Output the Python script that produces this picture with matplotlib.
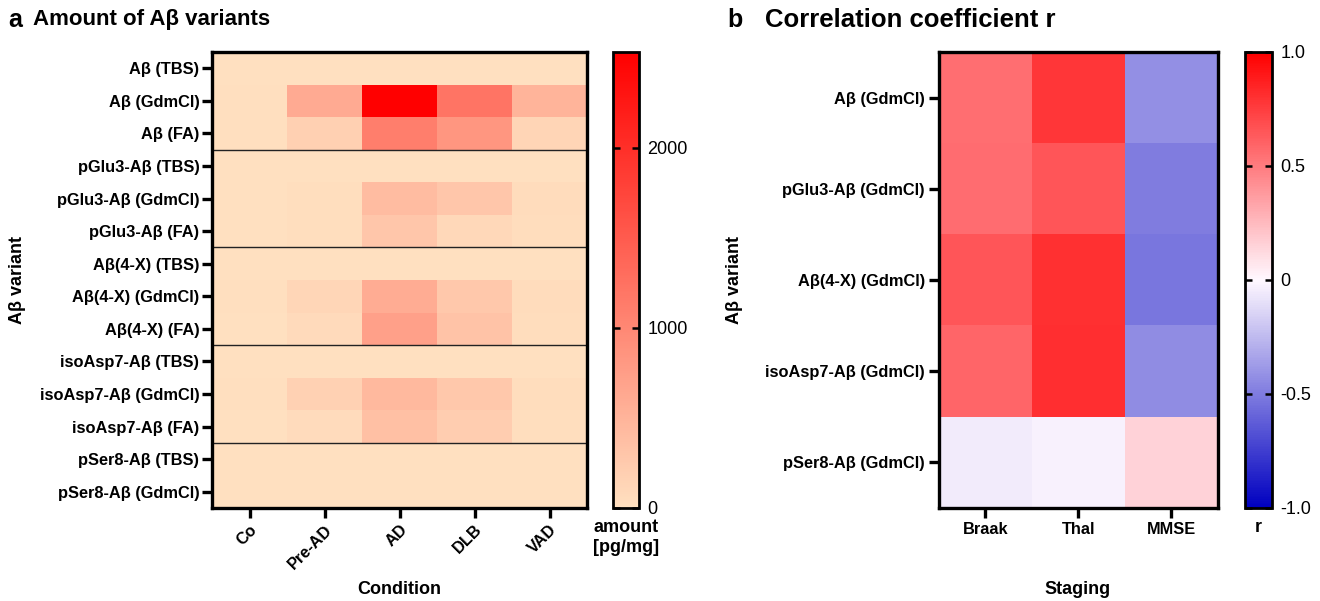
import numpy as np
import matplotlib
matplotlib.use("Agg")
import matplotlib.pyplot as plt
from matplotlib.colors import LinearSegmentedColormap

plt.rcParams['font.family'] = ['Liberation Sans', 'DejaVu Sans']

# ---------------- data ----------------
conditions = ["Co", "Pre-AD", "AD", "DLB", "VAD"]
variants = ["Aβ (TBS)", "Aβ (GdmCl)", "Aβ (FA)",
            "pGlu3-Aβ (TBS)", "pGlu3-Aβ (GdmCl)", "pGlu3-Aβ (FA)",
            "Aβ(4-X) (TBS)", "Aβ(4-X) (GdmCl)", "Aβ(4-X) (FA)",
            "isoAsp7-Aβ (TBS)", "isoAsp7-Aβ (GdmCl)", "isoAsp7-Aβ (FA)",
            "pSer8-Aβ (TBS)", "pSer8-Aβ (GdmCl)"]
amount = [
    [2, 3, 4, 3, 2],
    [15, 610, 2530, 1210, 500],
    [10, 180, 1100, 840, 125],
    [2, 3, 5, 4, 2],
    [8, 25, 400, 290, 45],
    [6, 20, 290, 80, 30],
    [2, 3, 6, 4, 2],
    [10, 110, 590, 270, 40],
    [8, 60, 720, 330, 30],
    [2, 3, 6, 4, 2],
    [10, 160, 440, 270, 35],
    [8, 55, 360, 210, 20],
    [2, 3, 4, 3, 2],
    [3, 5, 8, 5, 3],
]
amount_ticks = [0, 1000, 2000]
amount_max = 2530

staging = ["Braak", "Thal", "MMSE"]
corr_variants = ["Aβ (GdmCl)", "pGlu3-Aβ (GdmCl)", "Aβ(4-X) (GdmCl)",
                 "isoAsp7-Aβ (GdmCl)", "pSer8-Aβ (GdmCl)"]
corr_r = [
    [0.55, 0.78, -0.42],
    [0.56, 0.65, -0.50],
    [0.65, 0.80, -0.52],
    [0.59, 0.81, -0.43],
    [-0.05, -0.03, 0.15],
]
r_ticks = [-1.0, -0.5, 0, 0.5, 1.0]
r_ticklabels = ["-1.0", "-0.5", "0", "0.5", "1.0"]

# ---------------- figure ----------------
W, H = 1320, 601
fig = plt.figure(figsize=(W / 100, H / 100), dpi=100)


def box(x0, y0, x1, y1):
    return [x0 / W, 1 - y1 / H, (x1 - x0) / W, (y1 - y0) / H]


cmap_a = LinearSegmentedColormap.from_list("amt", ["#FFE0C0", "#FF0000"])
cmap_b = LinearSegmentedColormap.from_list("rr", ["#0000C0", "#FFF8FF", "#FF0000"])

tick_fs = 11.8
lab_fs = 13
cb_fs = 13
lw_frame = 2.4


def style_frame(ax):
    for s in ax.spines.values():
        s.set_linewidth(lw_frame)
        s.set_color("black")


# ---- panel a ----
axA = fig.add_axes(box(212, 52, 587, 508))
imA = axA.imshow(np.array(amount), cmap=cmap_a, vmin=0, vmax=amount_max,
                 aspect="auto", interpolation="nearest")
axA.set_xticks(range(len(conditions)))
axA.set_xticklabels(conditions, rotation=45, ha="right", rotation_mode="anchor",
                    fontsize=tick_fs, fontweight="bold")
axA.set_yticks(range(len(variants)))
axA.set_yticklabels(variants, fontsize=tick_fs, fontweight="bold")
axA.tick_params(axis="y", length=7, width=2.4, pad=2)
axA.tick_params(axis="x", length=7, width=2.4, pad=3)
for yb in [2.5, 5.5, 8.5, 11.5]:
    axA.axhline(yb, color="#222222", lw=1.0)
style_frame(axA)
axA.set_ylabel("Aβ variant", fontsize=lab_fs, fontweight="bold")
axA.yaxis.set_label_coords((26 - 212) / 375, 0.5)
fig.text(399 / W, 1 - 590 / H, "Condition", fontsize=lab_fs, fontweight="bold",
         ha="center", va="center")

caxA = fig.add_axes(box(613, 52, 639, 508))
cbA = fig.colorbar(imA, cax=caxA, ticks=amount_ticks)
cbA.outline.set_linewidth(2.0)
caxA.tick_params(direction="in", length=5, width=1.8, left=True, right=True,
                 labelsize=cb_fs, pad=6)
caxA.text(0.5, -0.025, "amount\n[pg/mg]", transform=caxA.transAxes, ha="center",
          va="top", fontsize=lab_fs, fontweight="bold", linespacing=1.2)

# ---- panel b ----
axB = fig.add_axes(box(939, 52, 1218, 508))
imB = axB.imshow(np.array(corr_r), cmap=cmap_b, vmin=-1, vmax=1,
                 aspect="auto", interpolation="nearest")
axB.set_xticks(range(len(staging)))
axB.set_xticklabels(staging, fontsize=tick_fs, fontweight="bold")
axB.set_yticks(range(len(corr_variants)))
axB.set_yticklabels(corr_variants, fontsize=tick_fs, fontweight="bold")
axB.tick_params(length=7, width=2.4, pad=3)
style_frame(axB)
axB.set_ylabel("Aβ variant", fontsize=lab_fs, fontweight="bold")
axB.yaxis.set_label_coords((743 - 939) / 279, 0.5)
fig.text(1078 / W, 1 - 590 / H, "Staging", fontsize=lab_fs, fontweight="bold",
         ha="center", va="center")

caxB = fig.add_axes(box(1245, 52, 1272, 508))
cbB = fig.colorbar(imB, cax=caxB, ticks=r_ticks)
cbB.ax.set_yticklabels(r_ticklabels)
cbB.outline.set_linewidth(2.0)
caxB.tick_params(direction="in", length=5, width=1.8, left=True, right=True,
                 labelsize=cb_fs, pad=6)
caxB.text(0.5, -0.025, "r", transform=caxB.transAxes, ha="center",
          va="top", fontsize=lab_fs, fontweight="bold")

# ---- titles ----
fig.text(8 / W, 1 - 20 / H, "a", fontsize=18, fontweight="bold", va="center")
fig.text(33 / W, 1 - 20 / H, "Amount of Aβ variants", fontsize=16,
         fontweight="bold", va="center")
fig.text(727 / W, 1 - 20 / H, "b", fontsize=18, fontweight="bold", va="center")
fig.text(765 / W, 1 - 20 / H, "Correlation coefficient r", fontsize=18.5,
         fontweight="bold", va="center")

fig.savefig("out.png", dpi=100)
